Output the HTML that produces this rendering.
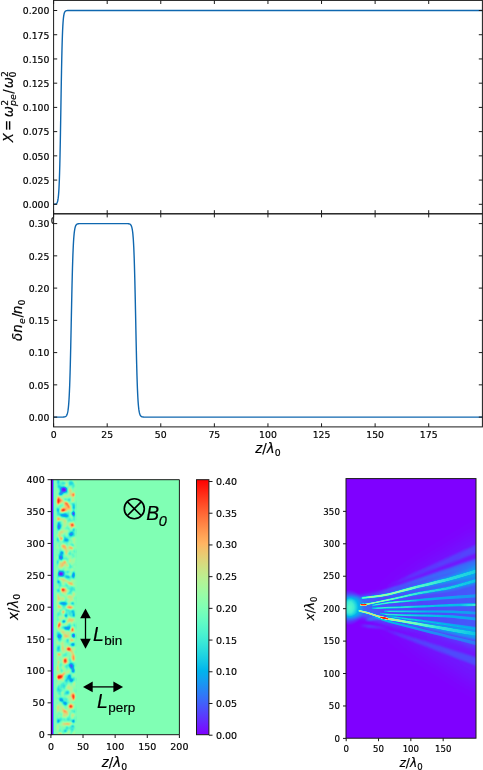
<!DOCTYPE html>
<html><head><meta charset="utf-8"><title>Figure</title><style>html,body{margin:0;padding:0;background:#fff}svg{display:block}</style></head><body>
<svg width="483" height="770" viewBox="0 0 483 770">
<rect width="483" height="770" fill="#fff"/>
<clipPath id="c0"><rect x="0" y="213.8" width="53.30" height="20"/></clipPath>
<text x="53.60" y="224.40" font-size="9.3" text-anchor="middle" font-family='"DejaVu Sans","Liberation Sans",sans-serif' stroke="#000" stroke-width="0.18" clip-path="url(#c0)">0</text>
<path d="M53.60,204.30 L54.67,204.24 L54.89,204.22 L55.10,204.19 L55.31,204.15 L55.53,204.09 L55.74,204.02 L55.96,203.93 L56.17,203.81 L56.39,203.65 L56.60,203.45 L56.82,203.18 L57.03,202.83 L57.24,202.38 L57.46,201.78 L57.67,201.01 L57.89,200.00 L58.10,198.71 L58.32,197.03 L58.53,194.88 L58.74,192.14 L58.96,188.67 L59.17,184.31 L59.39,178.92 L59.60,172.34 L59.82,164.46 L60.03,155.22 L60.24,144.67 L60.46,132.98 L60.67,120.42 L60.89,107.41 L61.10,94.39 L61.32,81.84 L61.53,70.14 L61.75,59.60 L61.96,50.36 L62.17,42.48 L62.39,35.90 L62.60,30.51 L62.82,26.15 L63.03,22.68 L63.25,19.94 L63.46,17.79 L63.67,16.11 L63.89,14.81 L64.10,13.81 L64.32,13.04 L64.53,12.44 L64.75,11.99 L64.96,11.64 L65.17,11.37 L65.39,11.16 L65.60,11.01 L65.82,10.89 L66.03,10.80 L66.25,10.73 L66.46,10.67 L66.68,10.63 L66.89,10.60 L67.53,10.54 L482.30,10.50" fill="none" stroke="#0f67af" stroke-width="1.4" stroke-linejoin="round"/>
<path d="M53.60,417.10 L63.25,417.04 L63.67,417.01 L63.89,416.99 L64.10,416.97 L64.32,416.93 L64.53,416.89 L64.75,416.84 L64.96,416.78 L65.17,416.71 L65.39,416.61 L65.60,416.49 L65.82,416.35 L66.03,416.16 L66.25,415.94 L66.46,415.66 L66.68,415.31 L66.89,414.88 L67.10,414.35 L67.32,413.69 L67.53,412.88 L67.75,411.89 L67.96,410.66 L68.18,409.17 L68.39,407.34 L68.60,405.11 L68.82,402.42 L69.03,399.19 L69.25,395.33 L69.46,390.76 L69.68,385.41 L69.89,379.22 L70.10,372.16 L70.32,364.23 L70.53,355.48 L70.75,346.01 L70.96,335.99 L71.18,325.60 L71.39,315.10 L71.61,304.71 L71.82,294.69 L72.03,285.22 L72.25,276.47 L72.46,268.54 L72.68,261.48 L72.89,255.29 L73.11,249.94 L73.32,245.37 L73.53,241.51 L73.75,238.28 L73.96,235.59 L74.18,233.36 L74.39,231.53 L74.61,230.04 L74.82,228.81 L75.03,227.82 L75.25,227.01 L75.46,226.35 L75.68,225.82 L75.89,225.39 L76.11,225.04 L76.32,224.76 L76.54,224.54 L76.75,224.35 L76.96,224.21 L77.18,224.09 L77.39,223.99 L77.61,223.92 L77.82,223.86 L78.04,223.81 L78.25,223.77 L78.46,223.73 L78.68,223.71 L79.32,223.66 L81.68,223.61 L127.77,223.66 L128.19,223.70 L128.41,223.72 L128.62,223.75 L128.84,223.78 L129.05,223.83 L129.27,223.88 L129.48,223.95 L129.69,224.04 L129.91,224.14 L130.12,224.28 L130.34,224.44 L130.55,224.64 L130.77,224.90 L130.98,225.21 L131.19,225.59 L131.41,226.07 L131.62,226.66 L131.84,227.39 L132.05,228.29 L132.27,229.39 L132.48,230.75 L132.70,232.40 L132.91,234.42 L133.12,236.87 L133.34,239.82 L133.55,243.36 L133.77,247.56 L133.98,252.51 L134.20,258.28 L134.41,264.90 L134.62,272.40 L134.84,280.75 L135.05,289.87 L135.27,299.64 L135.48,309.87 L135.70,320.35 L135.91,330.83 L136.12,341.06 L136.34,350.83 L136.55,359.95 L136.77,368.30 L136.98,375.80 L137.20,382.42 L137.41,388.19 L137.63,393.14 L137.84,397.34 L138.05,400.88 L138.27,403.83 L138.48,406.28 L138.70,408.30 L138.91,409.95 L139.13,411.31 L139.34,412.41 L139.55,413.31 L139.77,414.04 L139.98,414.63 L140.20,415.11 L140.41,415.49 L140.63,415.80 L140.84,416.06 L141.05,416.26 L141.27,416.42 L141.48,416.56 L141.70,416.66 L141.91,416.75 L142.13,416.82 L142.34,416.87 L142.56,416.92 L142.77,416.95 L142.98,416.98 L143.63,417.04 L145.34,417.09 L482.30,417.10" fill="none" stroke="#0f67af" stroke-width="1.4" stroke-linejoin="round"/>
<rect x="53.6" y="0.4" width="428.80" height="213.40" fill="none" stroke="#1a1a1a" stroke-width="1.0"/>
<rect x="53.6" y="213.8" width="428.80" height="213.10" fill="none" stroke="#1a1a1a" stroke-width="1.0"/>
<line x1="53.60" y1="213.80" x2="53.60" y2="210.20" stroke="#1a1a1a" stroke-width="1.0" />
<line x1="53.60" y1="0.40" x2="53.60" y2="4.00" stroke="#1a1a1a" stroke-width="1.0" />
<line x1="107.19" y1="213.80" x2="107.19" y2="210.20" stroke="#1a1a1a" stroke-width="1.0" />
<line x1="107.19" y1="0.40" x2="107.19" y2="4.00" stroke="#1a1a1a" stroke-width="1.0" />
<line x1="160.78" y1="213.80" x2="160.78" y2="210.20" stroke="#1a1a1a" stroke-width="1.0" />
<line x1="160.78" y1="0.40" x2="160.78" y2="4.00" stroke="#1a1a1a" stroke-width="1.0" />
<line x1="214.36" y1="213.80" x2="214.36" y2="210.20" stroke="#1a1a1a" stroke-width="1.0" />
<line x1="214.36" y1="0.40" x2="214.36" y2="4.00" stroke="#1a1a1a" stroke-width="1.0" />
<line x1="267.95" y1="213.80" x2="267.95" y2="210.20" stroke="#1a1a1a" stroke-width="1.0" />
<line x1="267.95" y1="0.40" x2="267.95" y2="4.00" stroke="#1a1a1a" stroke-width="1.0" />
<line x1="321.54" y1="213.80" x2="321.54" y2="210.20" stroke="#1a1a1a" stroke-width="1.0" />
<line x1="321.54" y1="0.40" x2="321.54" y2="4.00" stroke="#1a1a1a" stroke-width="1.0" />
<line x1="375.12" y1="213.80" x2="375.12" y2="210.20" stroke="#1a1a1a" stroke-width="1.0" />
<line x1="375.12" y1="0.40" x2="375.12" y2="4.00" stroke="#1a1a1a" stroke-width="1.0" />
<line x1="428.71" y1="213.80" x2="428.71" y2="210.20" stroke="#1a1a1a" stroke-width="1.0" />
<line x1="428.71" y1="0.40" x2="428.71" y2="4.00" stroke="#1a1a1a" stroke-width="1.0" />
<line x1="53.60" y1="426.90" x2="53.60" y2="423.30" stroke="#1a1a1a" stroke-width="1.0" />
<line x1="53.60" y1="213.80" x2="53.60" y2="217.40" stroke="#1a1a1a" stroke-width="1.0" />
<line x1="107.19" y1="426.90" x2="107.19" y2="423.30" stroke="#1a1a1a" stroke-width="1.0" />
<line x1="107.19" y1="213.80" x2="107.19" y2="217.40" stroke="#1a1a1a" stroke-width="1.0" />
<line x1="160.78" y1="426.90" x2="160.78" y2="423.30" stroke="#1a1a1a" stroke-width="1.0" />
<line x1="160.78" y1="213.80" x2="160.78" y2="217.40" stroke="#1a1a1a" stroke-width="1.0" />
<line x1="214.36" y1="426.90" x2="214.36" y2="423.30" stroke="#1a1a1a" stroke-width="1.0" />
<line x1="214.36" y1="213.80" x2="214.36" y2="217.40" stroke="#1a1a1a" stroke-width="1.0" />
<line x1="267.95" y1="426.90" x2="267.95" y2="423.30" stroke="#1a1a1a" stroke-width="1.0" />
<line x1="267.95" y1="213.80" x2="267.95" y2="217.40" stroke="#1a1a1a" stroke-width="1.0" />
<line x1="321.54" y1="426.90" x2="321.54" y2="423.30" stroke="#1a1a1a" stroke-width="1.0" />
<line x1="321.54" y1="213.80" x2="321.54" y2="217.40" stroke="#1a1a1a" stroke-width="1.0" />
<line x1="375.12" y1="426.90" x2="375.12" y2="423.30" stroke="#1a1a1a" stroke-width="1.0" />
<line x1="375.12" y1="213.80" x2="375.12" y2="217.40" stroke="#1a1a1a" stroke-width="1.0" />
<line x1="428.71" y1="426.90" x2="428.71" y2="423.30" stroke="#1a1a1a" stroke-width="1.0" />
<line x1="428.71" y1="213.80" x2="428.71" y2="217.40" stroke="#1a1a1a" stroke-width="1.0" />
<line x1="53.60" y1="204.30" x2="57.20" y2="204.30" stroke="#1a1a1a" stroke-width="1.0" />
<line x1="482.40" y1="204.30" x2="478.80" y2="204.30" stroke="#1a1a1a" stroke-width="1.0" />
<text x="49.40" y="208.15" font-size="9.3" text-anchor="end" font-family='"DejaVu Sans","Liberation Sans",sans-serif' stroke="#000" stroke-width="0.18" >0.000</text>
<line x1="53.60" y1="180.08" x2="57.20" y2="180.08" stroke="#1a1a1a" stroke-width="1.0" />
<line x1="482.40" y1="180.08" x2="478.80" y2="180.08" stroke="#1a1a1a" stroke-width="1.0" />
<text x="49.40" y="183.92" font-size="9.3" text-anchor="end" font-family='"DejaVu Sans","Liberation Sans",sans-serif' stroke="#000" stroke-width="0.18" >0.025</text>
<line x1="53.60" y1="155.85" x2="57.20" y2="155.85" stroke="#1a1a1a" stroke-width="1.0" />
<line x1="482.40" y1="155.85" x2="478.80" y2="155.85" stroke="#1a1a1a" stroke-width="1.0" />
<text x="49.40" y="159.70" font-size="9.3" text-anchor="end" font-family='"DejaVu Sans","Liberation Sans",sans-serif' stroke="#000" stroke-width="0.18" >0.050</text>
<line x1="53.60" y1="131.62" x2="57.20" y2="131.62" stroke="#1a1a1a" stroke-width="1.0" />
<line x1="482.40" y1="131.62" x2="478.80" y2="131.62" stroke="#1a1a1a" stroke-width="1.0" />
<text x="49.40" y="135.47" font-size="9.3" text-anchor="end" font-family='"DejaVu Sans","Liberation Sans",sans-serif' stroke="#000" stroke-width="0.18" >0.075</text>
<line x1="53.60" y1="107.40" x2="57.20" y2="107.40" stroke="#1a1a1a" stroke-width="1.0" />
<line x1="482.40" y1="107.40" x2="478.80" y2="107.40" stroke="#1a1a1a" stroke-width="1.0" />
<text x="49.40" y="111.25" font-size="9.3" text-anchor="end" font-family='"DejaVu Sans","Liberation Sans",sans-serif' stroke="#000" stroke-width="0.18" >0.100</text>
<line x1="53.60" y1="83.18" x2="57.20" y2="83.18" stroke="#1a1a1a" stroke-width="1.0" />
<line x1="482.40" y1="83.18" x2="478.80" y2="83.18" stroke="#1a1a1a" stroke-width="1.0" />
<text x="49.40" y="87.02" font-size="9.3" text-anchor="end" font-family='"DejaVu Sans","Liberation Sans",sans-serif' stroke="#000" stroke-width="0.18" >0.125</text>
<line x1="53.60" y1="58.95" x2="57.20" y2="58.95" stroke="#1a1a1a" stroke-width="1.0" />
<line x1="482.40" y1="58.95" x2="478.80" y2="58.95" stroke="#1a1a1a" stroke-width="1.0" />
<text x="49.40" y="62.80" font-size="9.3" text-anchor="end" font-family='"DejaVu Sans","Liberation Sans",sans-serif' stroke="#000" stroke-width="0.18" >0.150</text>
<line x1="53.60" y1="34.72" x2="57.20" y2="34.72" stroke="#1a1a1a" stroke-width="1.0" />
<line x1="482.40" y1="34.72" x2="478.80" y2="34.72" stroke="#1a1a1a" stroke-width="1.0" />
<text x="49.40" y="38.57" font-size="9.3" text-anchor="end" font-family='"DejaVu Sans","Liberation Sans",sans-serif' stroke="#000" stroke-width="0.18" >0.175</text>
<line x1="53.60" y1="10.50" x2="57.20" y2="10.50" stroke="#1a1a1a" stroke-width="1.0" />
<line x1="482.40" y1="10.50" x2="478.80" y2="10.50" stroke="#1a1a1a" stroke-width="1.0" />
<text x="49.40" y="14.35" font-size="9.3" text-anchor="end" font-family='"DejaVu Sans","Liberation Sans",sans-serif' stroke="#000" stroke-width="0.18" >0.200</text>
<line x1="53.60" y1="417.10" x2="57.20" y2="417.10" stroke="#1a1a1a" stroke-width="1.0" />
<line x1="482.40" y1="417.10" x2="478.80" y2="417.10" stroke="#1a1a1a" stroke-width="1.0" />
<text x="49.40" y="420.95" font-size="9.3" text-anchor="end" font-family='"DejaVu Sans","Liberation Sans",sans-serif' stroke="#000" stroke-width="0.18" >0.00</text>
<line x1="53.60" y1="384.85" x2="57.20" y2="384.85" stroke="#1a1a1a" stroke-width="1.0" />
<line x1="482.40" y1="384.85" x2="478.80" y2="384.85" stroke="#1a1a1a" stroke-width="1.0" />
<text x="49.40" y="388.70" font-size="9.3" text-anchor="end" font-family='"DejaVu Sans","Liberation Sans",sans-serif' stroke="#000" stroke-width="0.18" >0.05</text>
<line x1="53.60" y1="352.60" x2="57.20" y2="352.60" stroke="#1a1a1a" stroke-width="1.0" />
<line x1="482.40" y1="352.60" x2="478.80" y2="352.60" stroke="#1a1a1a" stroke-width="1.0" />
<text x="49.40" y="356.45" font-size="9.3" text-anchor="end" font-family='"DejaVu Sans","Liberation Sans",sans-serif' stroke="#000" stroke-width="0.18" >0.10</text>
<line x1="53.60" y1="320.35" x2="57.20" y2="320.35" stroke="#1a1a1a" stroke-width="1.0" />
<line x1="482.40" y1="320.35" x2="478.80" y2="320.35" stroke="#1a1a1a" stroke-width="1.0" />
<text x="49.40" y="324.20" font-size="9.3" text-anchor="end" font-family='"DejaVu Sans","Liberation Sans",sans-serif' stroke="#000" stroke-width="0.18" >0.15</text>
<line x1="53.60" y1="288.10" x2="57.20" y2="288.10" stroke="#1a1a1a" stroke-width="1.0" />
<line x1="482.40" y1="288.10" x2="478.80" y2="288.10" stroke="#1a1a1a" stroke-width="1.0" />
<text x="49.40" y="291.95" font-size="9.3" text-anchor="end" font-family='"DejaVu Sans","Liberation Sans",sans-serif' stroke="#000" stroke-width="0.18" >0.20</text>
<line x1="53.60" y1="255.85" x2="57.20" y2="255.85" stroke="#1a1a1a" stroke-width="1.0" />
<line x1="482.40" y1="255.85" x2="478.80" y2="255.85" stroke="#1a1a1a" stroke-width="1.0" />
<text x="49.40" y="259.70" font-size="9.3" text-anchor="end" font-family='"DejaVu Sans","Liberation Sans",sans-serif' stroke="#000" stroke-width="0.18" >0.25</text>
<line x1="53.60" y1="223.60" x2="57.20" y2="223.60" stroke="#1a1a1a" stroke-width="1.0" />
<line x1="482.40" y1="223.60" x2="478.80" y2="223.60" stroke="#1a1a1a" stroke-width="1.0" />
<text x="49.40" y="227.45" font-size="9.3" text-anchor="end" font-family='"DejaVu Sans","Liberation Sans",sans-serif' stroke="#000" stroke-width="0.18" >0.30</text>
<text x="53.60" y="438.10" font-size="9.3" text-anchor="middle" font-family='"DejaVu Sans","Liberation Sans",sans-serif' stroke="#000" stroke-width="0.18" >0</text>
<text x="107.19" y="438.10" font-size="9.3" text-anchor="middle" font-family='"DejaVu Sans","Liberation Sans",sans-serif' stroke="#000" stroke-width="0.18" >25</text>
<text x="160.78" y="438.10" font-size="9.3" text-anchor="middle" font-family='"DejaVu Sans","Liberation Sans",sans-serif' stroke="#000" stroke-width="0.18" >50</text>
<text x="214.36" y="438.10" font-size="9.3" text-anchor="middle" font-family='"DejaVu Sans","Liberation Sans",sans-serif' stroke="#000" stroke-width="0.18" >75</text>
<text x="267.95" y="438.10" font-size="9.3" text-anchor="middle" font-family='"DejaVu Sans","Liberation Sans",sans-serif' stroke="#000" stroke-width="0.18" >100</text>
<text x="321.54" y="438.10" font-size="9.3" text-anchor="middle" font-family='"DejaVu Sans","Liberation Sans",sans-serif' stroke="#000" stroke-width="0.18" >125</text>
<text x="375.12" y="438.10" font-size="9.3" text-anchor="middle" font-family='"DejaVu Sans","Liberation Sans",sans-serif' stroke="#000" stroke-width="0.18" >150</text>
<text x="428.71" y="438.10" font-size="9.3" text-anchor="middle" font-family='"DejaVu Sans","Liberation Sans",sans-serif' stroke="#000" stroke-width="0.18" >175</text>
<text x="268.00" y="453.40" font-size="13.3" text-anchor="middle" font-family='"DejaVu Sans","Liberation Sans",sans-serif' stroke="#000" stroke-width="0.18" ><tspan font-style="italic">z</tspan>/<tspan font-style="italic">λ</tspan><tspan font-size="9.31" dy="2.93">0</tspan></text>
<text font-family='"DejaVu Sans","Liberation Sans",sans-serif' font-size="13.3" transform="translate(12.7,142.3) rotate(-90)" stroke="#000" stroke-width="0.18"><tspan x="0.00" y="0.00" font-size="13.3" font-style="italic">X</tspan><tspan x="11.30" y="0.00" font-size="13.3">=</tspan><tspan x="25.00" y="0.00" font-size="13.3" font-style="italic">ω</tspan><tspan x="36.60" y="-5.10" font-size="9.4">2</tspan><tspan x="36.40" y="3.70" font-size="9.4" font-style="italic">pe</tspan><tspan x="48.50" y="0.00" font-size="13.3">/</tspan><tspan x="54.00" y="0.00" font-size="13.3" font-style="italic">ω</tspan><tspan x="65.20" y="-5.10" font-size="9.4">2</tspan><tspan x="64.80" y="3.70" font-size="9.4">0</tspan></text>
<text font-family='"DejaVu Sans","Liberation Sans",sans-serif' font-size="13.3" transform="translate(22.4,341.0) rotate(-90)" stroke="#000" stroke-width="0.18"><tspan x="0.00" y="0.00" font-size="13.3" font-style="italic">δ</tspan><tspan x="8.30" y="0.00" font-size="13.3" font-style="italic">n</tspan><tspan x="17.00" y="2.30" font-size="9.4" font-style="italic">e</tspan><tspan x="23.50" y="0.00" font-size="13.3">/</tspan><tspan x="27.00" y="0.00" font-size="13.3" font-style="italic">n</tspan><tspan x="35.60" y="2.30" font-size="9.4">0</tspan></text>
<defs>
<filter id="cm" x="0" y="0" width="100%" height="100%" color-interpolation-filters="sRGB" filterUnits="objectBoundingBox"><feComponentTransfer><feFuncR type="table" tableValues="0.500 0.438 0.375 0.312 0.250 0.188 0.125 0.062 0.000 0.062 0.125 0.188 0.250 0.312 0.375 0.438 0.500 0.562 0.625 0.688 0.750 0.812 0.875 0.938 1.000 1.000 1.000 1.000 1.000 1.000 1.000 1.000 1.000"/><feFuncG type="table" tableValues="0.000 0.098 0.195 0.290 0.383 0.471 0.556 0.634 0.707 0.773 0.831 0.882 0.924 0.957 0.981 0.995 1.000 0.995 0.981 0.957 0.924 0.882 0.831 0.773 0.707 0.634 0.556 0.471 0.383 0.290 0.195 0.098 0.000"/><feFuncB type="table" tableValues="1.000 0.999 0.995 0.989 0.981 0.970 0.957 0.942 0.924 0.904 0.882 0.858 0.831 0.803 0.773 0.741 0.707 0.672 0.634 0.596 0.556 0.514 0.471 0.428 0.383 0.337 0.290 0.243 0.195 0.147 0.098 0.049 0.000"/></feComponentTransfer></filter>
</defs>
<rect x="50.9" y="479.7" width="128.50" height="255.00" fill="#80ffb4"/>
<rect x="50.9" y="479.7" width="2.3" height="255.00" fill="#8000ff"/>
<filter id="tb" x="55.6" y="479.7" width="20.60" height="255.00" filterUnits="userSpaceOnUse" color-interpolation-filters="sRGB"><feTurbulence type="fractalNoise" baseFrequency="0.16 0.13" numOctaves="2" seed="7" result="n"/><feColorMatrix in="n" type="matrix" values="0.9 0 0 0 0.05  0.9 0 0 0 0.05  0.9 0 0 0 0.05  0 0 0 0 1"/></filter>
<filter id="bl" x="52.6" y="476.7" width="26.60" height="261.00" filterUnits="userSpaceOnUse" color-interpolation-filters="sRGB"><feGaussianBlur stdDeviation="1.0"/></filter>
<filter id="cms" x="55.6" y="479.7" width="20.60" height="255.00" filterUnits="userSpaceOnUse" color-interpolation-filters="sRGB"><feComponentTransfer><feFuncR type="table" tableValues="0.500 0.438 0.375 0.312 0.250 0.188 0.125 0.062 0.000 0.062 0.125 0.188 0.250 0.312 0.375 0.438 0.500 0.562 0.625 0.688 0.750 0.812 0.875 0.938 1.000 1.000 1.000 1.000 1.000 1.000 1.000 1.000 1.000"/><feFuncG type="table" tableValues="0.000 0.098 0.195 0.290 0.383 0.471 0.556 0.634 0.707 0.773 0.831 0.882 0.924 0.957 0.981 0.995 1.000 0.995 0.981 0.957 0.924 0.882 0.831 0.773 0.707 0.634 0.556 0.471 0.383 0.290 0.195 0.098 0.000"/><feFuncB type="table" tableValues="1.000 0.999 0.995 0.989 0.981 0.970 0.957 0.942 0.924 0.904 0.882 0.858 0.831 0.803 0.773 0.741 0.707 0.672 0.634 0.596 0.556 0.514 0.471 0.428 0.383 0.337 0.290 0.243 0.195 0.147 0.098 0.049 0.000"/></feComponentTransfer></filter>
<clipPath id="cs"><rect x="55.6" y="479.7" width="20.60" height="255.00"/></clipPath>
<g filter="url(#cms)"><g clip-path="url(#cs)">
<rect x="55.6" y="479.7" width="20.60" height="255.00" fill="#808080"/>
<rect x="55.6" y="479.7" width="20.60" height="255.00" filter="url(#tb)" opacity="0.65"/>
<g filter="url(#bl)">
<ellipse cx="63.85" cy="489.57" rx="3.19" ry="2.92" fill="rgb(0,0,0)"/>
<ellipse cx="60.85" cy="493.42" rx="2.92" ry="2.13" fill="rgb(38,38,38)" transform="rotate(-35 60.85 493.42)"/>
<ellipse cx="59.14" cy="486.57" rx="2.39" ry="1.86" fill="rgb(73,73,73)"/>
<ellipse cx="71.99" cy="483.14" rx="2.13" ry="1.59" fill="rgb(73,73,73)"/>
<ellipse cx="69.42" cy="499.85" rx="2.39" ry="1.33" fill="rgb(70,70,70)" transform="rotate(20 69.42 499.85)"/>
<ellipse cx="57.00" cy="509.71" rx="1.46" ry="1.99" fill="rgb(32,32,32)"/>
<ellipse cx="73.71" cy="513.56" rx="2.13" ry="2.66" fill="rgb(0,0,0)"/>
<ellipse cx="74.14" cy="507.56" rx="1.59" ry="2.92" fill="rgb(48,48,48)"/>
<ellipse cx="64.28" cy="515.53" rx="5.31" ry="1.73" fill="rgb(38,38,38)" transform="rotate(10 64.28 515.53)"/>
<ellipse cx="58.71" cy="526.84" rx="2.13" ry="3.19" fill="rgb(32,32,32)"/>
<ellipse cx="58.71" cy="522.99" rx="1.86" ry="1.86" fill="rgb(57,57,57)"/>
<ellipse cx="71.14" cy="534.13" rx="2.66" ry="2.26" fill="rgb(32,32,32)" transform="rotate(-30 71.14 534.13)"/>
<ellipse cx="73.71" cy="529.84" rx="1.59" ry="2.13" fill="rgb(57,57,57)"/>
<ellipse cx="66.42" cy="539.87" rx="2.92" ry="1.59" fill="rgb(38,38,38)"/>
<ellipse cx="57.00" cy="539.27" rx="1.33" ry="1.59" fill="rgb(48,48,48)"/>
<ellipse cx="63.42" cy="483.14" rx="2.92" ry="1.86" fill="rgb(89,89,89)"/>
<ellipse cx="73.71" cy="494.71" rx="1.86" ry="2.13" fill="rgb(229,229,229)"/>
<ellipse cx="57.85" cy="500.71" rx="2.26" ry="3.19" fill="rgb(255,255,255)"/>
<ellipse cx="60.85" cy="500.45" rx="2.66" ry="1.33" fill="rgb(217,217,217)"/>
<ellipse cx="66.42" cy="503.71" rx="3.19" ry="1.86" fill="rgb(229,229,229)" transform="rotate(30 66.42 503.71)"/>
<ellipse cx="68.57" cy="506.71" rx="1.86" ry="2.92" fill="rgb(223,223,223)" transform="rotate(-20 68.57 506.71)"/>
<ellipse cx="63.25" cy="510.13" rx="2.92" ry="1.99" fill="rgb(255,255,255)" transform="rotate(-20 63.25 510.13)"/>
<ellipse cx="58.28" cy="518.96" rx="1.86" ry="1.59" fill="rgb(223,223,223)"/>
<ellipse cx="72.16" cy="524.96" rx="1.86" ry="1.99" fill="rgb(255,255,255)"/>
<ellipse cx="61.71" cy="531.98" rx="2.39" ry="1.59" fill="rgb(185,185,185)" transform="rotate(-30 61.71 531.98)"/>
<ellipse cx="59.14" cy="535.24" rx="1.86" ry="1.59" fill="rgb(191,191,191)"/>
<ellipse cx="61.28" cy="538.67" rx="1.73" ry="1.59" fill="rgb(229,229,229)"/>
<ellipse cx="74.56" cy="538.84" rx="1.06" ry="1.86" fill="rgb(191,191,191)"/>
<ellipse cx="65.99" cy="496.42" rx="2.92" ry="1.33" fill="rgb(179,179,179)" transform="rotate(-10 65.99 496.42)"/>
<ellipse cx="72.85" cy="500.28" rx="1.33" ry="1.86" fill="rgb(185,185,185)"/>
<ellipse cx="65.14" cy="521.27" rx="1.59" ry="2.39" fill="rgb(166,166,166)"/>
<ellipse cx="61.71" cy="553.14" rx="1.86" ry="2.66" fill="rgb(38,38,38)" transform="rotate(15 61.71 553.14)"/>
<ellipse cx="60.85" cy="557.85" rx="2.13" ry="1.86" fill="rgb(16,16,16)"/>
<ellipse cx="57.43" cy="562.14" rx="1.33" ry="2.39" fill="rgb(48,48,48)"/>
<ellipse cx="60.85" cy="573.88" rx="2.92" ry="2.66" fill="rgb(0,0,0)"/>
<ellipse cx="67.71" cy="571.99" rx="1.86" ry="1.59" fill="rgb(64,64,64)"/>
<ellipse cx="68.57" cy="577.13" rx="2.39" ry="1.59" fill="rgb(48,48,48)"/>
<ellipse cx="73.71" cy="574.99" rx="1.59" ry="3.72" fill="rgb(32,32,32)"/>
<ellipse cx="58.28" cy="581.85" rx="2.13" ry="1.86" fill="rgb(38,38,38)"/>
<ellipse cx="63.00" cy="603.27" rx="4.52" ry="1.59" fill="rgb(32,32,32)"/>
<ellipse cx="72.42" cy="603.27" rx="1.73" ry="1.86" fill="rgb(48,48,48)"/>
<ellipse cx="70.28" cy="588.70" rx="3.19" ry="1.33" fill="rgb(83,83,83)" transform="rotate(20 70.28 588.70)"/>
<ellipse cx="72.85" cy="554.85" rx="1.33" ry="2.13" fill="rgb(89,89,89)"/>
<ellipse cx="63.42" cy="546.28" rx="3.19" ry="1.33" fill="rgb(207,207,207)" transform="rotate(10 63.42 546.28)"/>
<ellipse cx="71.14" cy="548.00" rx="2.92" ry="1.33" fill="rgb(223,223,223)" transform="rotate(15 71.14 548.00)"/>
<ellipse cx="74.56" cy="559.57" rx="1.06" ry="1.59" fill="rgb(191,191,191)"/>
<ellipse cx="64.71" cy="562.14" rx="1.73" ry="2.13" fill="rgb(217,217,217)"/>
<ellipse cx="62.14" cy="565.99" rx="2.39" ry="1.20" fill="rgb(207,207,207)" transform="rotate(-45 62.14 565.99)"/>
<ellipse cx="67.54" cy="565.56" rx="2.13" ry="1.20" fill="rgb(207,207,207)" transform="rotate(45 67.54 565.56)"/>
<ellipse cx="65.14" cy="580.73" rx="2.92" ry="1.20" fill="rgb(198,198,198)" transform="rotate(25 65.14 580.73)"/>
<ellipse cx="70.71" cy="583.56" rx="3.45" ry="1.20" fill="rgb(217,217,217)" transform="rotate(25 70.71 583.56)"/>
<ellipse cx="63.00" cy="589.81" rx="2.26" ry="2.26" fill="rgb(255,255,255)"/>
<ellipse cx="57.85" cy="595.56" rx="1.20" ry="2.92" fill="rgb(207,207,207)"/>
<ellipse cx="58.71" cy="598.98" rx="1.86" ry="1.59" fill="rgb(198,198,198)"/>
<ellipse cx="61.71" cy="598.56" rx="2.39" ry="1.06" fill="rgb(191,191,191)"/>
<ellipse cx="68.99" cy="596.84" rx="1.86" ry="1.86" fill="rgb(185,185,185)"/>
<ellipse cx="70.28" cy="607.30" rx="2.66" ry="1.33" fill="rgb(223,223,223)"/>
<ellipse cx="57.43" cy="587.42" rx="2.13" ry="1.06" fill="rgb(179,179,179)"/>
<ellipse cx="74.14" cy="615.00" rx="1.33" ry="2.39" fill="rgb(32,32,32)"/>
<ellipse cx="65.99" cy="615.85" rx="1.86" ry="2.39" fill="rgb(38,38,38)"/>
<ellipse cx="63.85" cy="621.42" rx="1.86" ry="1.86" fill="rgb(32,32,32)"/>
<ellipse cx="67.28" cy="628.28" rx="3.72" ry="1.73" fill="rgb(38,38,38)"/>
<ellipse cx="59.14" cy="635.99" rx="2.92" ry="1.86" fill="rgb(32,32,32)"/>
<ellipse cx="73.54" cy="635.56" rx="1.99" ry="2.26" fill="rgb(6,6,6)"/>
<ellipse cx="72.85" cy="644.56" rx="2.26" ry="1.73" fill="rgb(25,25,25)"/>
<ellipse cx="58.28" cy="649.70" rx="1.86" ry="1.33" fill="rgb(83,83,83)"/>
<ellipse cx="65.14" cy="655.27" rx="2.13" ry="1.33" fill="rgb(77,77,77)"/>
<ellipse cx="71.14" cy="665.98" rx="1.86" ry="2.92" fill="rgb(16,16,16)" transform="rotate(-25 71.14 665.98)"/>
<ellipse cx="73.71" cy="670.70" rx="1.59" ry="2.39" fill="rgb(16,16,16)" transform="rotate(-25 73.71 670.70)"/>
<ellipse cx="58.28" cy="614.14" rx="1.33" ry="2.66" fill="rgb(89,89,89)"/>
<ellipse cx="69.42" cy="607.29" rx="3.72" ry="1.33" fill="rgb(223,223,223)"/>
<ellipse cx="59.14" cy="606.86" rx="1.86" ry="1.06" fill="rgb(191,191,191)"/>
<ellipse cx="63.42" cy="612.00" rx="1.59" ry="1.59" fill="rgb(223,223,223)" transform="rotate(-30 63.42 612.00)"/>
<ellipse cx="59.14" cy="625.28" rx="1.59" ry="3.45" fill="rgb(255,255,255)" transform="rotate(10 59.14 625.28)"/>
<ellipse cx="68.99" cy="621.00" rx="3.45" ry="1.06" fill="rgb(191,191,191)" transform="rotate(-35 68.99 621.00)"/>
<ellipse cx="64.28" cy="624.42" rx="3.45" ry="0.93" fill="rgb(185,185,185)" transform="rotate(-10 64.28 624.42)"/>
<ellipse cx="72.42" cy="629.56" rx="1.59" ry="2.66" fill="rgb(255,255,255)"/>
<ellipse cx="66.42" cy="636.42" rx="2.39" ry="1.33" fill="rgb(207,207,207)"/>
<ellipse cx="71.56" cy="640.28" rx="1.86" ry="1.33" fill="rgb(223,223,223)" transform="rotate(20 71.56 640.28)"/>
<ellipse cx="68.57" cy="649.10" rx="2.52" ry="2.13" fill="rgb(255,255,255)"/>
<ellipse cx="63.00" cy="647.99" rx="1.33" ry="3.72" fill="rgb(198,198,198)"/>
<ellipse cx="59.14" cy="654.41" rx="2.92" ry="1.33" fill="rgb(223,223,223)" transform="rotate(15 59.14 654.41)"/>
<ellipse cx="73.71" cy="657.41" rx="1.59" ry="3.98" fill="rgb(217,217,217)"/>
<ellipse cx="65.14" cy="660.67" rx="1.86" ry="2.92" fill="rgb(255,255,255)"/>
<ellipse cx="58.11" cy="662.56" rx="1.06" ry="2.66" fill="rgb(207,207,207)"/>
<ellipse cx="57.00" cy="668.13" rx="1.20" ry="3.45" fill="rgb(229,229,229)"/>
<ellipse cx="60.85" cy="630.42" rx="2.92" ry="1.06" fill="rgb(185,185,185)" transform="rotate(10 60.85 630.42)"/>
<ellipse cx="72.85" cy="671.29" rx="1.86" ry="2.13" fill="rgb(38,38,38)"/>
<ellipse cx="69.42" cy="676.43" rx="1.86" ry="2.39" fill="rgb(32,32,32)"/>
<ellipse cx="71.56" cy="680.28" rx="1.59" ry="2.13" fill="rgb(32,32,32)"/>
<ellipse cx="58.28" cy="689.71" rx="2.39" ry="1.86" fill="rgb(77,77,77)" transform="rotate(30 58.28 689.71)"/>
<ellipse cx="67.71" cy="692.71" rx="2.13" ry="1.59" fill="rgb(57,57,57)"/>
<ellipse cx="61.28" cy="699.99" rx="2.39" ry="1.73" fill="rgb(25,25,25)" transform="rotate(35 61.28 699.99)"/>
<ellipse cx="65.14" cy="703.25" rx="2.39" ry="1.59" fill="rgb(32,32,32)" transform="rotate(40 65.14 703.25)"/>
<ellipse cx="57.85" cy="721.41" rx="1.73" ry="1.86" fill="rgb(32,32,32)"/>
<ellipse cx="73.28" cy="720.99" rx="1.86" ry="1.86" fill="rgb(25,25,25)"/>
<ellipse cx="68.57" cy="719.70" rx="1.86" ry="1.33" fill="rgb(70,70,70)"/>
<ellipse cx="72.85" cy="726.13" rx="1.59" ry="1.73" fill="rgb(38,38,38)"/>
<ellipse cx="65.14" cy="731.01" rx="1.73" ry="1.86" fill="rgb(32,32,32)"/>
<ellipse cx="61.71" cy="685.00" rx="1.59" ry="2.13" fill="rgb(83,83,83)"/>
<ellipse cx="59.57" cy="676.86" rx="3.72" ry="2.26" fill="rgb(255,255,255)" transform="rotate(-10 59.57 676.86)"/>
<ellipse cx="63.85" cy="673.86" rx="1.33" ry="2.13" fill="rgb(223,223,223)" transform="rotate(30 63.85 673.86)"/>
<ellipse cx="74.56" cy="683.71" rx="0.93" ry="3.19" fill="rgb(191,191,191)"/>
<ellipse cx="73.71" cy="696.99" rx="1.46" ry="3.45" fill="rgb(255,255,255)"/>
<ellipse cx="70.71" cy="706.42" rx="2.26" ry="2.13" fill="rgb(255,255,255)"/>
<ellipse cx="57.43" cy="707.70" rx="1.33" ry="2.13" fill="rgb(191,191,191)"/>
<ellipse cx="65.14" cy="711.13" rx="3.19" ry="1.33" fill="rgb(217,217,217)" transform="rotate(20 65.14 711.13)"/>
<ellipse cx="61.28" cy="707.70" rx="2.39" ry="1.06" fill="rgb(191,191,191)" transform="rotate(30 61.28 707.70)"/>
<ellipse cx="72.85" cy="714.99" rx="1.86" ry="1.20" fill="rgb(185,185,185)"/>
<ellipse cx="66.42" cy="723.98" rx="4.25" ry="1.20" fill="rgb(217,217,217)" transform="rotate(5 66.42 723.98)"/>
<ellipse cx="57.43" cy="729.98" rx="1.06" ry="2.13" fill="rgb(191,191,191)"/>
<ellipse cx="60.00" cy="733.84" rx="1.86" ry="1.06" fill="rgb(223,223,223)"/>
<ellipse cx="68.57" cy="687.14" rx="1.33" ry="1.33" fill="rgb(185,185,185)"/>
<ellipse cx="67.28" cy="714.56" rx="1.33" ry="2.13" fill="rgb(179,179,179)"/>
<ellipse cx="56.57" cy="683.71" rx="1.06" ry="1.59" fill="rgb(185,185,185)"/>
</g>
<linearGradient id="ef" x1="55.6" x2="76.2" y1="0" y2="0" gradientUnits="userSpaceOnUse"><stop offset="0" stop-color="#808080"/><stop offset="0.12" stop-color="#808080" stop-opacity="0"/><stop offset="0.9" stop-color="#808080" stop-opacity="0"/><stop offset="1" stop-color="#808080"/></linearGradient>
<rect x="55.6" y="479.7" width="20.60" height="255.00" fill="url(#ef)"/>
</g></g>
<linearGradient id="pg" x1="50.9" x2="55.9" y1="0" y2="0" gradientUnits="userSpaceOnUse"><stop offset="0" stop-color="#8000ff"/><stop offset="0.42" stop-color="#8000ff"/><stop offset="0.49" stop-color="#1996f3"/><stop offset="0.56" stop-color="#42edd3"/><stop offset="0.72" stop-color="#80ffb4"/><stop offset="1" stop-color="#80ffb4"/></linearGradient>
<rect x="50.9" y="479.7" width="5" height="255.00" fill="url(#pg)"/>
<path d="M50.9,479.7 L179.4,479.7 L179.4,734.7 L50.9,734.7" fill="none" stroke="#1a1a1a" stroke-width="1.0"/>
<line x1="51.449999999999996" y1="479.2" x2="51.449999999999996" y2="735.2" stroke="#12003a" stroke-width="1.1" stroke-opacity="0.85"/>
<line x1="50.90" y1="734.70" x2="47.60" y2="734.70" stroke="#1a1a1a" stroke-width="1.0" />
<text x="44.70" y="738.22" font-size="9.5" text-anchor="end" font-family='"DejaVu Sans","Liberation Sans",sans-serif' stroke="#000" stroke-width="0.18" >0</text>
<line x1="50.90" y1="702.83" x2="47.60" y2="702.83" stroke="#1a1a1a" stroke-width="1.0" />
<text x="44.70" y="706.34" font-size="9.5" text-anchor="end" font-family='"DejaVu Sans","Liberation Sans",sans-serif' stroke="#000" stroke-width="0.18" >50</text>
<line x1="50.90" y1="670.95" x2="47.60" y2="670.95" stroke="#1a1a1a" stroke-width="1.0" />
<text x="44.70" y="674.47" font-size="9.5" text-anchor="end" font-family='"DejaVu Sans","Liberation Sans",sans-serif' stroke="#000" stroke-width="0.18" >100</text>
<line x1="50.90" y1="639.08" x2="47.60" y2="639.08" stroke="#1a1a1a" stroke-width="1.0" />
<text x="44.70" y="642.59" font-size="9.5" text-anchor="end" font-family='"DejaVu Sans","Liberation Sans",sans-serif' stroke="#000" stroke-width="0.18" >150</text>
<line x1="50.90" y1="607.20" x2="47.60" y2="607.20" stroke="#1a1a1a" stroke-width="1.0" />
<text x="44.70" y="610.72" font-size="9.5" text-anchor="end" font-family='"DejaVu Sans","Liberation Sans",sans-serif' stroke="#000" stroke-width="0.18" >200</text>
<line x1="50.90" y1="575.33" x2="47.60" y2="575.33" stroke="#1a1a1a" stroke-width="1.0" />
<text x="44.70" y="578.84" font-size="9.5" text-anchor="end" font-family='"DejaVu Sans","Liberation Sans",sans-serif' stroke="#000" stroke-width="0.18" >250</text>
<line x1="50.90" y1="543.45" x2="47.60" y2="543.45" stroke="#1a1a1a" stroke-width="1.0" />
<text x="44.70" y="546.97" font-size="9.5" text-anchor="end" font-family='"DejaVu Sans","Liberation Sans",sans-serif' stroke="#000" stroke-width="0.18" >300</text>
<line x1="50.90" y1="511.58" x2="47.60" y2="511.58" stroke="#1a1a1a" stroke-width="1.0" />
<text x="44.70" y="515.09" font-size="9.5" text-anchor="end" font-family='"DejaVu Sans","Liberation Sans",sans-serif' stroke="#000" stroke-width="0.18" >350</text>
<line x1="50.90" y1="479.70" x2="47.60" y2="479.70" stroke="#1a1a1a" stroke-width="1.0" />
<text x="44.70" y="483.21" font-size="9.5" text-anchor="end" font-family='"DejaVu Sans","Liberation Sans",sans-serif' stroke="#000" stroke-width="0.18" >400</text>
<line x1="50.90" y1="734.70" x2="50.90" y2="738.00" stroke="#1a1a1a" stroke-width="1.0" />
<text x="50.90" y="749.60" font-size="9.5" text-anchor="middle" font-family='"DejaVu Sans","Liberation Sans",sans-serif' stroke="#000" stroke-width="0.18" >0</text>
<line x1="83.03" y1="734.70" x2="83.03" y2="738.00" stroke="#1a1a1a" stroke-width="1.0" />
<text x="83.03" y="749.60" font-size="9.5" text-anchor="middle" font-family='"DejaVu Sans","Liberation Sans",sans-serif' stroke="#000" stroke-width="0.18" >50</text>
<line x1="115.15" y1="734.70" x2="115.15" y2="738.00" stroke="#1a1a1a" stroke-width="1.0" />
<text x="115.15" y="749.60" font-size="9.5" text-anchor="middle" font-family='"DejaVu Sans","Liberation Sans",sans-serif' stroke="#000" stroke-width="0.18" >100</text>
<line x1="147.28" y1="734.70" x2="147.28" y2="738.00" stroke="#1a1a1a" stroke-width="1.0" />
<text x="147.28" y="749.60" font-size="9.5" text-anchor="middle" font-family='"DejaVu Sans","Liberation Sans",sans-serif' stroke="#000" stroke-width="0.18" >150</text>
<line x1="179.40" y1="734.70" x2="179.40" y2="738.00" stroke="#1a1a1a" stroke-width="1.0" />
<text x="179.40" y="749.60" font-size="9.5" text-anchor="middle" font-family='"DejaVu Sans","Liberation Sans",sans-serif' stroke="#000" stroke-width="0.18" >200</text>
<text x="114.50" y="766.60" font-size="13.3" text-anchor="middle" font-family='"DejaVu Sans","Liberation Sans",sans-serif' stroke="#000" stroke-width="0.18" ><tspan font-style="italic">z</tspan>/<tspan font-style="italic">λ</tspan><tspan font-size="9.31" dy="2.93">0</tspan></text>
<text x="0.00" y="0.00" font-size="13.3" text-anchor="middle" font-family='"DejaVu Sans","Liberation Sans",sans-serif' stroke="#000" stroke-width="0.18" transform="translate(17.5,607) rotate(-90)"><tspan font-style="italic">x</tspan>/<tspan font-style="italic">λ</tspan><tspan font-size="9.31" dy="2.93">0</tspan></text>
<linearGradient id="cb" x1="0" y1="1" x2="0" y2="0"><stop offset="0.0000" stop-color="#8000ff"/><stop offset="0.0250" stop-color="#7314ff"/><stop offset="0.0500" stop-color="#6628fe"/><stop offset="0.0750" stop-color="#593cfd"/><stop offset="0.1000" stop-color="#4c4ffc"/><stop offset="0.1250" stop-color="#4062fa"/><stop offset="0.1500" stop-color="#3374f8"/><stop offset="0.1750" stop-color="#2685f5"/><stop offset="0.2000" stop-color="#1996f3"/><stop offset="0.2250" stop-color="#0da6ef"/><stop offset="0.2500" stop-color="#00b4ec"/><stop offset="0.2750" stop-color="#0dc2e8"/><stop offset="0.3000" stop-color="#1acee3"/><stop offset="0.3250" stop-color="#26d9de"/><stop offset="0.3500" stop-color="#33e3d9"/><stop offset="0.3750" stop-color="#40ecd4"/><stop offset="0.4000" stop-color="#4df3ce"/><stop offset="0.4250" stop-color="#59f8c8"/><stop offset="0.4500" stop-color="#66fcc2"/><stop offset="0.4750" stop-color="#73febb"/><stop offset="0.5000" stop-color="#80ffb4"/><stop offset="0.5250" stop-color="#8cfead"/><stop offset="0.5500" stop-color="#99fca6"/><stop offset="0.5750" stop-color="#a6f89e"/><stop offset="0.6000" stop-color="#b3f396"/><stop offset="0.6250" stop-color="#bfec8e"/><stop offset="0.6500" stop-color="#cce385"/><stop offset="0.6750" stop-color="#d9d97d"/><stop offset="0.7000" stop-color="#e6ce74"/><stop offset="0.7250" stop-color="#f2c26b"/><stop offset="0.7500" stop-color="#ffb462"/><stop offset="0.7750" stop-color="#ffa658"/><stop offset="0.8000" stop-color="#ff964f"/><stop offset="0.8250" stop-color="#ff8545"/><stop offset="0.8500" stop-color="#ff743c"/><stop offset="0.8750" stop-color="#ff6232"/><stop offset="0.9000" stop-color="#ff4f28"/><stop offset="0.9250" stop-color="#ff3c1e"/><stop offset="0.9500" stop-color="#ff2814"/><stop offset="0.9750" stop-color="#ff140a"/><stop offset="1.0000" stop-color="#ff0000"/></linearGradient>
<rect x="196.5" y="479.7" width="12.40" height="255.00" fill="url(#cb)" stroke="#1a1a1a" stroke-width="1.0"/>
<line x1="208.90" y1="735.20" x2="212.50" y2="735.20" stroke="#1a1a1a" stroke-width="1.0" />
<text x="215.90" y="738.72" font-size="9.5" text-anchor="start" font-family='"DejaVu Sans","Liberation Sans",sans-serif' stroke="#000" stroke-width="0.18" >0.00</text>
<line x1="208.90" y1="703.49" x2="212.50" y2="703.49" stroke="#1a1a1a" stroke-width="1.0" />
<text x="215.90" y="707.00" font-size="9.5" text-anchor="start" font-family='"DejaVu Sans","Liberation Sans",sans-serif' stroke="#000" stroke-width="0.18" >0.05</text>
<line x1="208.90" y1="671.78" x2="212.50" y2="671.78" stroke="#1a1a1a" stroke-width="1.0" />
<text x="215.90" y="675.30" font-size="9.5" text-anchor="start" font-family='"DejaVu Sans","Liberation Sans",sans-serif' stroke="#000" stroke-width="0.18" >0.10</text>
<line x1="208.90" y1="640.07" x2="212.50" y2="640.07" stroke="#1a1a1a" stroke-width="1.0" />
<text x="215.90" y="643.59" font-size="9.5" text-anchor="start" font-family='"DejaVu Sans","Liberation Sans",sans-serif' stroke="#000" stroke-width="0.18" >0.15</text>
<line x1="208.90" y1="608.36" x2="212.50" y2="608.36" stroke="#1a1a1a" stroke-width="1.0" />
<text x="215.90" y="611.88" font-size="9.5" text-anchor="start" font-family='"DejaVu Sans","Liberation Sans",sans-serif' stroke="#000" stroke-width="0.18" >0.20</text>
<line x1="208.90" y1="576.65" x2="212.50" y2="576.65" stroke="#1a1a1a" stroke-width="1.0" />
<text x="215.90" y="580.17" font-size="9.5" text-anchor="start" font-family='"DejaVu Sans","Liberation Sans",sans-serif' stroke="#000" stroke-width="0.18" >0.25</text>
<line x1="208.90" y1="544.94" x2="212.50" y2="544.94" stroke="#1a1a1a" stroke-width="1.0" />
<text x="215.90" y="548.46" font-size="9.5" text-anchor="start" font-family='"DejaVu Sans","Liberation Sans",sans-serif' stroke="#000" stroke-width="0.18" >0.30</text>
<line x1="208.90" y1="513.23" x2="212.50" y2="513.23" stroke="#1a1a1a" stroke-width="1.0" />
<text x="215.90" y="516.75" font-size="9.5" text-anchor="start" font-family='"DejaVu Sans","Liberation Sans",sans-serif' stroke="#000" stroke-width="0.18" >0.35</text>
<line x1="208.90" y1="481.52" x2="212.50" y2="481.52" stroke="#1a1a1a" stroke-width="1.0" />
<text x="215.90" y="485.04" font-size="9.5" text-anchor="start" font-family='"DejaVu Sans","Liberation Sans",sans-serif' stroke="#000" stroke-width="0.18" >0.40</text>
<g stroke="#000" stroke-width="1.65" fill="none"><circle cx="134.3" cy="508.7" r="10.0"/><path d="M127.23,501.63 L141.37,515.77 M141.37,501.63 L127.23,515.77"/></g>
<text x="146.30" y="520.30" font-size="19.3" text-anchor="start" font-family='"Liberation Sans","DejaVu Sans",sans-serif' stroke="#000" stroke-width="0.18" ><tspan font-style="italic">B</tspan><tspan font-size="14.5" dy="5.2" dx="-0.5" font-style="italic">0</tspan></text>
<g stroke="#000" stroke-width="1.3" fill="#000"><path d="M85.5,614 L85.5,643" /><path d="M85.5,608.4 L90.8,618.3 L80.2,618.3 Z" stroke="none"/><path d="M85.5,648.7 L90.8,638.8 L80.2,638.8 Z" stroke="none"/></g>
<text x="92.90" y="640.60" font-size="19.5" text-anchor="start" font-family='"Liberation Sans","DejaVu Sans",sans-serif' stroke="#000" stroke-width="0.18" ><tspan font-style="italic">L</tspan><tspan font-size="13.5" dy="4.7" dx="0.4">bin</tspan></text>
<g stroke="#000" stroke-width="1.3" fill="#000"><path d="M88,686.9 L118,686.9" /><path d="M83,686.9 L92.7,681.6 L92.7,692.1999999999999 Z" stroke="none"/><path d="M123.1,686.9 L113.4,681.6 L113.4,692.1999999999999 Z" stroke="none"/></g>
<text x="96.90" y="707.70" font-size="19.5" text-anchor="start" font-family='"Liberation Sans","DejaVu Sans",sans-serif' stroke="#000" stroke-width="0.18" ><tspan font-style="italic">L</tspan><tspan font-size="13.5" dy="4.7" dx="0.4">perp</tspan></text>
<rect x="346.0" y="478.6" width="130.00" height="259.60" fill="#8000ff"/>
<filter id="cmb" x="346.0" y="478.6" width="130.00" height="259.60" filterUnits="userSpaceOnUse" color-interpolation-filters="sRGB"><feComponentTransfer><feFuncR type="table" tableValues="0.500 0.438 0.375 0.312 0.250 0.188 0.125 0.062 0.000 0.062 0.125 0.188 0.250 0.312 0.375 0.438 0.500 0.562 0.625 0.688 0.750 0.812 0.875 0.938 1.000 1.000 1.000 1.000 1.000 1.000 1.000 1.000 1.000"/><feFuncG type="table" tableValues="0.000 0.098 0.195 0.290 0.383 0.471 0.556 0.634 0.707 0.773 0.831 0.882 0.924 0.957 0.981 0.995 1.000 0.995 0.981 0.957 0.924 0.882 0.831 0.773 0.707 0.634 0.556 0.471 0.383 0.290 0.195 0.098 0.000"/><feFuncB type="table" tableValues="1.000 0.999 0.995 0.989 0.981 0.970 0.957 0.942 0.924 0.904 0.882 0.858 0.831 0.803 0.773 0.741 0.707 0.672 0.634 0.596 0.556 0.514 0.471 0.428 0.383 0.337 0.290 0.243 0.195 0.147 0.098 0.049 0.000"/></feComponentTransfer></filter>
<filter id="b1" x="326.0" y="458.6" width="170.00" height="299.60" filterUnits="userSpaceOnUse" color-interpolation-filters="sRGB"><feGaussianBlur stdDeviation="0.6"/></filter>
<filter id="b0" x="326.0" y="458.6" width="170.00" height="299.60" filterUnits="userSpaceOnUse" color-interpolation-filters="sRGB"><feGaussianBlur stdDeviation="0.45"/></filter>
<filter id="b2" x="326.0" y="458.6" width="170.00" height="299.60" filterUnits="userSpaceOnUse" color-interpolation-filters="sRGB"><feGaussianBlur stdDeviation="1.3"/></filter>
<filter id="b3" x="326.0" y="458.6" width="170.00" height="299.60" filterUnits="userSpaceOnUse" color-interpolation-filters="sRGB"><feGaussianBlur stdDeviation="4"/></filter>
<filter id="b5" x="326.0" y="458.6" width="170.00" height="299.60" filterUnits="userSpaceOnUse" color-interpolation-filters="sRGB"><feGaussianBlur stdDeviation="2.2"/></filter>
<filter id="b4" x="326.0" y="458.6" width="170.00" height="299.60" filterUnits="userSpaceOnUse" color-interpolation-filters="sRGB"><feGaussianBlur stdDeviation="9"/></filter>
<clipPath id="cr"><rect x="346.0" y="478.6" width="130.00" height="259.60"/></clipPath>
<g filter="url(#cmb)"><g clip-path="url(#cr)">
<rect x="346.0" y="478.6" width="130.00" height="259.60" fill="#000"/>
<linearGradient id="g1" gradientUnits="userSpaceOnUse" x1="346.0" x2="476.0" y1="0" y2="0"><stop offset="0.185" stop-color="#fff" stop-opacity="0"/><stop offset="0.569" stop-color="#fff" stop-opacity="0.03"/><stop offset="1.000" stop-color="#fff" stop-opacity="0.035"/></linearGradient>
<g filter="url(#b4)"><polygon points="352.0,607.4 486.0,528 486.0,692" fill="url(#g1)"/></g>
<linearGradient id="g2" gradientUnits="userSpaceOnUse" x1="346.0" x2="476.0" y1="0" y2="0"><stop offset="0.277" stop-color="#fff" stop-opacity="0"/><stop offset="0.531" stop-color="#fff" stop-opacity="0.06"/><stop offset="1.000" stop-color="#fff" stop-opacity="0.085"/></linearGradient>
<g filter="url(#b3)"><polygon points="356.0,607.4 486.0,560 486.0,650" fill="url(#g2)"/></g>
<linearGradient id="g3" gradientUnits="userSpaceOnUse" x1="346.0" x2="476.0" y1="0" y2="0"><stop offset="0.000" stop-color="#fff" stop-opacity="0.16"/><stop offset="0.108" stop-color="#fff" stop-opacity="0.15"/><stop offset="0.262" stop-color="#fff" stop-opacity="0.1"/><stop offset="0.415" stop-color="#fff" stop-opacity="0.05"/><stop offset="0.569" stop-color="#fff" stop-opacity="0.0"/></linearGradient>
<g filter="url(#b5)"><polygon points="346,597 362,596 400,588 420,584 420,634 400,629 362,617 346,618" fill="url(#g3)"/></g>
<radialGradient id="sg" cx="349.0" cy="607.4" r="18" gradientUnits="userSpaceOnUse" gradientTransform="translate(349.0,607.4) scale(0.85,1) translate(-349.0,-607.4)"><stop offset="0" stop-color="#fff" stop-opacity="0.33"/><stop offset="0.3" stop-color="#fff" stop-opacity="0.27"/><stop offset="0.6" stop-color="#fff" stop-opacity="0.12"/><stop offset="1" stop-color="#fff" stop-opacity="0"/></radialGradient>
<rect x="346.0" y="587.4" width="30" height="40" fill="url(#sg)"/>
<linearGradient id="g4" gradientUnits="userSpaceOnUse" x1="346.0" x2="476.0" y1="0" y2="0"><stop offset="0.100" stop-color="#fff" stop-opacity="0.0"/><stop offset="0.131" stop-color="#fff" stop-opacity="0.354"/><stop offset="0.200" stop-color="#fff" stop-opacity="0.496"/><stop offset="0.415" stop-color="#fff" stop-opacity="0.472"/><stop offset="0.569" stop-color="#fff" stop-opacity="0.319"/><stop offset="0.800" stop-color="#fff" stop-opacity="0.177"/><stop offset="1.000" stop-color="#fff" stop-opacity="0.118"/></linearGradient>
<linearGradient id="g5" gradientUnits="userSpaceOnUse" x1="346.0" x2="476.0" y1="0" y2="0"><stop offset="0.223" stop-color="#fff" stop-opacity="0.0"/><stop offset="0.415" stop-color="#fff" stop-opacity="0.08"/><stop offset="0.723" stop-color="#fff" stop-opacity="0.1"/><stop offset="1.000" stop-color="#fff" stop-opacity="0.12"/></linearGradient>
<linearGradient id="g6" gradientUnits="userSpaceOnUse" x1="346.0" x2="476.0" y1="0" y2="0"><stop offset="0.123" stop-color="#fff" stop-opacity="0.59"/><stop offset="0.200" stop-color="#fff" stop-opacity="0.531"/><stop offset="0.377" stop-color="#fff" stop-opacity="0.389"/><stop offset="0.646" stop-color="#fff" stop-opacity="0.212"/><stop offset="1.000" stop-color="#fff" stop-opacity="0.118"/></linearGradient>
<linearGradient id="g7" gradientUnits="userSpaceOnUse" x1="346.0" x2="476.0" y1="0" y2="0"><stop offset="0.338" stop-color="#fff" stop-opacity="0.0"/><stop offset="0.646" stop-color="#fff" stop-opacity="0.06"/><stop offset="1.000" stop-color="#fff" stop-opacity="0.08"/></linearGradient>
<linearGradient id="g8" gradientUnits="userSpaceOnUse" x1="346.0" x2="476.0" y1="0" y2="0"><stop offset="0.169" stop-color="#fff" stop-opacity="0.0"/><stop offset="0.231" stop-color="#fff" stop-opacity="0.307"/><stop offset="0.377" stop-color="#fff" stop-opacity="0.354"/><stop offset="0.569" stop-color="#fff" stop-opacity="0.177"/><stop offset="1.000" stop-color="#fff" stop-opacity="0.094"/></linearGradient>
<linearGradient id="g9" gradientUnits="userSpaceOnUse" x1="346.0" x2="476.0" y1="0" y2="0"><stop offset="0.169" stop-color="#fff" stop-opacity="0.0"/><stop offset="0.246" stop-color="#fff" stop-opacity="0.33"/><stop offset="0.646" stop-color="#fff" stop-opacity="0.201"/><stop offset="0.877" stop-color="#fff" stop-opacity="0.177"/><stop offset="0.969" stop-color="#fff" stop-opacity="0.26"/><stop offset="1.000" stop-color="#fff" stop-opacity="0.307"/></linearGradient>
<linearGradient id="g10" gradientUnits="userSpaceOnUse" x1="346.0" x2="476.0" y1="0" y2="0"><stop offset="0.262" stop-color="#fff" stop-opacity="0.0"/><stop offset="0.338" stop-color="#fff" stop-opacity="0.283"/><stop offset="0.646" stop-color="#fff" stop-opacity="0.177"/><stop offset="1.000" stop-color="#fff" stop-opacity="0.106"/></linearGradient>
<linearGradient id="g11" gradientUnits="userSpaceOnUse" x1="346.0" x2="476.0" y1="0" y2="0"><stop offset="0.231" stop-color="#fff" stop-opacity="0.0"/><stop offset="0.308" stop-color="#fff" stop-opacity="0.307"/><stop offset="0.646" stop-color="#fff" stop-opacity="0.201"/><stop offset="1.000" stop-color="#fff" stop-opacity="0.118"/></linearGradient>
<linearGradient id="g12" gradientUnits="userSpaceOnUse" x1="346.0" x2="476.0" y1="0" y2="0"><stop offset="0.292" stop-color="#fff" stop-opacity="0.0"/><stop offset="0.369" stop-color="#fff" stop-opacity="0.236"/><stop offset="0.646" stop-color="#fff" stop-opacity="0.165"/><stop offset="1.000" stop-color="#fff" stop-opacity="0.094"/></linearGradient>
<linearGradient id="g13" gradientUnits="userSpaceOnUse" x1="346.0" x2="476.0" y1="0" y2="0"><stop offset="0.085" stop-color="#fff" stop-opacity="0.0"/><stop offset="0.108" stop-color="#fff" stop-opacity="0.531"/><stop offset="0.154" stop-color="#fff" stop-opacity="0.59"/><stop offset="0.246" stop-color="#fff" stop-opacity="0.649"/><stop offset="0.338" stop-color="#fff" stop-opacity="0.59"/><stop offset="0.492" stop-color="#fff" stop-opacity="0.425"/><stop offset="0.723" stop-color="#fff" stop-opacity="0.201"/><stop offset="1.000" stop-color="#fff" stop-opacity="0.094"/></linearGradient>
<linearGradient id="g14" gradientUnits="userSpaceOnUse" x1="346.0" x2="476.0" y1="0" y2="0"><stop offset="0.300" stop-color="#fff" stop-opacity="0.0"/><stop offset="0.492" stop-color="#fff" stop-opacity="0.08"/><stop offset="0.723" stop-color="#fff" stop-opacity="0.1"/><stop offset="1.000" stop-color="#fff" stop-opacity="0.11"/></linearGradient>
<linearGradient id="g15" gradientUnits="userSpaceOnUse" x1="346.0" x2="476.0" y1="0" y2="0"><stop offset="0.185" stop-color="#fff" stop-opacity="0.0"/><stop offset="0.285" stop-color="#fff" stop-opacity="0.212"/><stop offset="0.646" stop-color="#fff" stop-opacity="0.142"/><stop offset="1.000" stop-color="#fff" stop-opacity="0.071"/></linearGradient>
<linearGradient id="g16" gradientUnits="userSpaceOnUse" x1="346.0" x2="476.0" y1="0" y2="0"><stop offset="0.200" stop-color="#fff" stop-opacity="0.0"/><stop offset="0.354" stop-color="#fff" stop-opacity="0.1"/><stop offset="1.000" stop-color="#fff" stop-opacity="0.1"/></linearGradient>
<linearGradient id="g17" gradientUnits="userSpaceOnUse" x1="346.0" x2="476.0" y1="0" y2="0"><stop offset="0.262" stop-color="#fff" stop-opacity="0.0"/><stop offset="0.492" stop-color="#fff" stop-opacity="0.05"/><stop offset="1.000" stop-color="#fff" stop-opacity="0.06"/></linearGradient>
<linearGradient id="g18" gradientUnits="userSpaceOnUse" x1="346.0" x2="476.0" y1="0" y2="0"><stop offset="0.231" stop-color="#fff" stop-opacity="0.0"/><stop offset="0.415" stop-color="#fff" stop-opacity="0.06"/><stop offset="1.000" stop-color="#fff" stop-opacity="0.07"/></linearGradient>
<linearGradient id="g19" gradientUnits="userSpaceOnUse" x1="346.0" x2="476.0" y1="0" y2="0"><stop offset="0.123" stop-color="#fff" stop-opacity="0.0"/><stop offset="0.185" stop-color="#fff" stop-opacity="0.15"/><stop offset="0.292" stop-color="#fff" stop-opacity="0.0"/></linearGradient>
<linearGradient id="g20" gradientUnits="userSpaceOnUse" x1="346.0" x2="476.0" y1="0" y2="0"><stop offset="0.092" stop-color="#fff" stop-opacity="0.0"/><stop offset="0.185" stop-color="#fff" stop-opacity="0.1"/><stop offset="0.338" stop-color="#fff" stop-opacity="0.0"/></linearGradient>
<g filter="url(#b2)"><polygon points="361.4,596.8 370.8,595.5 380.3,593.9 389.7,591.9 399.1,589.0 408.6,586.2 418.0,583.4 427.4,580.9 436.8,578.3 446.3,575.7 455.7,572.8 465.1,569.7 474.6,566.6 484.0,563.4 484.0,574.4 474.6,576.9 465.1,579.4 455.7,581.8 446.3,584.1 436.8,586.0 427.4,587.9 418.0,589.9 408.6,592.0 399.1,594.2 389.7,596.4 380.3,597.7 370.8,598.6 361.4,599.2" fill="url(#g5)"/><polygon points="365.0,603.6 374.2,601.5 383.3,599.4 392.5,597.2 401.6,595.1 410.8,592.6 419.9,590.6 429.1,588.9 438.2,587.1 447.4,585.4 456.5,582.8 465.7,579.9 474.8,577.1 484.0,574.2 484.0,582.2 474.8,584.6 465.7,587.0 456.5,589.4 447.4,591.5 438.2,592.8 429.1,594.1 419.9,595.4 410.8,596.9 401.6,598.9 392.5,600.6 383.3,602.3 374.2,604.0 365.0,605.6" fill="url(#g7)"/><polygon points="358.5,609.5 368.2,611.6 377.8,614.3 387.5,616.5 397.1,617.8 406.8,619.1 416.4,620.4 426.1,621.8 435.7,623.2 445.4,624.6 455.0,625.9 464.7,627.2 474.3,628.5 484.0,629.9 484.0,640.9 474.3,638.9 464.7,636.9 455.0,635.0 445.4,633.0 435.7,630.9 426.1,628.9 416.4,626.9 406.8,624.9 397.1,622.9 387.5,621.0 377.8,618.1 368.2,614.7 358.5,612.0" fill="url(#g14)"/><polygon points="375.0,592.5 383.4,589.9 391.8,587.2 400.2,584.4 408.5,581.5 416.9,578.7 425.3,575.9 433.7,573.0 442.1,570.2 450.5,567.4 458.8,564.5 467.2,561.7 475.6,558.9 484.0,556.0 484.0,564.0 475.6,566.4 467.2,568.8 458.8,571.2 450.5,573.5 442.1,575.9 433.7,578.3 425.3,580.6 416.9,583.0 408.5,585.4 400.2,587.7 391.8,590.1 383.4,592.3 375.0,594.5" fill="url(#g16)"/><polygon points="380.0,588.0 388.0,584.4 396.0,580.8 404.0,577.2 412.0,573.6 420.0,570.0 428.0,566.4 436.0,562.8 444.0,559.2 452.0,555.6 460.0,552.0 468.0,548.4 476.0,544.8 484.0,541.2 484.0,550.2 476.0,553.2 468.0,556.3 460.0,559.4 452.0,562.4 444.0,565.5 436.0,568.6 428.0,571.6 420.0,574.7 412.0,577.7 404.0,580.8 396.0,583.9 388.0,586.9 380.0,590.0" fill="url(#g17)"/><polygon points="377.0,626.0 385.2,628.6 393.5,631.2 401.7,633.8 409.9,636.4 418.2,639.0 426.4,641.6 434.6,644.2 442.8,646.8 451.1,649.4 459.3,652.0 467.5,654.6 475.8,657.2 484.0,659.8 484.0,668.8 475.8,665.7 467.5,662.5 459.3,659.4 451.1,656.2 442.8,653.1 434.6,650.0 426.4,646.8 418.2,643.7 409.9,640.6 401.7,637.4 393.5,634.3 385.2,631.1 377.0,628.0" fill="url(#g18)"/><polygon points="366.2,618.9 367.5,618.7 368.8,618.6 370.0,618.4 371.3,618.2 372.6,618.1 373.9,617.9 375.2,617.7 376.4,617.6 377.7,617.4 379.0,617.2 380.3,617.0 381.6,616.9 382.8,616.7 382.8,618.7 381.6,618.9 380.3,619.0 379.0,619.2 377.7,619.4 376.4,619.6 375.2,619.7 373.9,619.9 372.6,620.1 371.3,620.2 370.0,620.4 368.8,620.6 367.5,620.7 366.2,620.9" fill="url(#g19)"/><polygon points="360.6,624.2 362.8,624.4 364.9,624.6 367.1,624.9 369.2,625.1 371.3,625.3 373.5,625.5 375.6,625.7 377.7,625.9 379.9,626.1 382.0,626.4 384.1,626.6 386.3,626.8 388.4,627.0 388.4,629.5 386.3,629.3 384.1,629.1 382.0,628.9 379.9,628.6 377.7,628.4 375.6,628.2 373.5,628.0 371.3,627.8 369.2,627.6 367.1,627.4 364.9,627.1 362.8,626.9 360.6,626.7" fill="url(#g20)"/></g>
<g filter="url(#b1)"><polygon points="361.4,597.1 370.8,596.0 380.3,594.7 389.7,593.0 399.1,590.4 408.6,587.7 418.0,585.2 427.4,582.9 436.8,580.6 446.3,578.2 455.7,575.6 465.1,572.7 474.6,569.8 484.0,566.9 484.0,570.9 474.6,573.6 465.1,576.3 455.7,579.1 446.3,581.6 436.8,583.7 427.4,585.9 418.0,588.1 408.6,590.4 399.1,592.8 389.7,595.3 380.3,596.9 370.8,598.0 361.4,598.9" fill="url(#g4)"/><polygon points="365.0,603.8 374.2,601.9 383.3,599.9 392.5,598.0 401.6,595.9 410.8,593.7 419.9,591.8 429.1,590.3 438.2,588.7 447.4,587.1 456.5,584.7 465.7,582.0 474.8,579.3 484.0,576.6 484.0,579.8 474.8,582.4 465.7,585.0 456.5,587.5 447.4,589.8 438.2,591.3 429.1,592.7 419.9,594.2 410.8,595.9 401.6,598.0 392.5,599.9 383.3,601.8 374.2,603.6 365.0,605.4" fill="url(#g6)"/><polygon points="372.0,604.8 380.6,603.3 389.2,601.8 397.8,600.9 406.5,600.2 415.1,599.4 423.7,598.6 432.3,597.8 440.9,597.0 449.5,596.2 458.2,595.6 466.8,594.9 475.4,594.3 484.0,593.7 484.0,596.9 475.4,597.4 466.8,597.9 458.2,598.4 449.5,598.9 440.9,599.5 432.3,600.2 423.7,600.8 415.1,601.5 406.5,602.1 397.8,602.8 389.2,603.5 380.6,604.8 372.0,606.2" fill="url(#g8)"/><polygon points="372.0,607.6 380.6,607.2 389.2,606.8 397.8,606.5 406.5,606.1 415.1,605.7 423.7,605.3 432.3,604.9 440.9,604.5 449.5,604.0 458.2,603.8 466.8,603.6 475.4,603.4 484.0,603.1 484.0,605.9 475.4,606.1 466.8,606.2 458.2,606.3 449.5,606.4 440.9,606.7 432.3,607.0 423.7,607.4 415.1,607.7 406.5,607.9 397.8,608.2 389.2,608.5 380.6,608.7 372.0,609.0" fill="url(#g9)"/><polygon points="384.0,610.6 391.7,610.6 399.4,610.6 407.1,610.5 414.8,610.5 422.5,610.5 430.2,610.5 437.8,610.5 445.5,610.4 453.2,610.6 460.9,610.9 468.6,611.3 476.3,611.7 484.0,612.0 484.0,614.8 476.3,614.4 468.6,613.9 460.9,613.4 453.2,613.0 445.5,612.7 437.8,612.6 430.2,612.5 422.5,612.4 414.8,612.4 407.1,612.3 399.4,612.2 391.7,612.1 384.0,612.0" fill="url(#g10)"/><polygon points="380.0,612.8 388.0,613.7 396.0,614.0 404.0,614.2 412.0,614.3 420.0,614.5 428.0,614.6 436.0,614.8 444.0,614.9 452.0,615.3 460.0,616.0 468.0,616.8 476.0,617.6 484.0,618.3 484.0,621.3 476.0,620.4 468.0,619.5 460.0,618.7 452.0,617.8 444.0,617.3 436.0,617.1 428.0,616.8 420.0,616.5 412.0,616.2 404.0,616.0 396.0,615.7 388.0,615.2 380.0,614.2" fill="url(#g11)"/><polygon points="386.0,615.3 393.5,616.3 401.1,617.2 408.6,618.2 416.2,619.1 423.7,620.1 431.2,621.0 438.8,622.0 446.3,622.9 453.8,623.9 461.4,624.9 468.9,625.9 476.5,626.9 484.0,627.9 484.0,630.9 476.5,629.8 468.9,628.7 461.4,627.5 453.8,626.4 446.3,625.3 438.8,624.2 431.2,623.1 423.7,622.1 416.2,621.0 408.6,619.9 401.1,618.8 393.5,617.8 386.0,616.7" fill="url(#g12)"/><polygon points="358.5,609.8 368.2,612.1 377.8,615.2 387.5,617.6 397.1,619.1 406.8,620.7 416.4,622.2 426.1,623.9 435.7,625.5 445.4,627.1 455.0,628.7 464.7,630.3 474.3,631.8 484.0,633.4 484.0,637.4 474.3,635.6 464.7,633.9 455.0,632.2 445.4,630.4 435.7,628.6 426.1,626.9 416.4,625.1 406.8,623.3 397.1,621.6 387.5,619.9 377.8,617.3 368.2,614.1 358.5,611.6" fill="url(#g13)"/><polygon points="372.0,615.7 380.6,618.3 389.2,620.8 397.8,622.9 406.5,625.0 415.1,627.1 423.7,629.2 432.3,631.2 440.9,633.3 449.5,635.4 458.2,637.5 466.8,639.5 475.4,641.6 484.0,643.7 484.0,647.3 475.4,645.1 466.8,642.8 458.2,640.6 449.5,638.4 440.9,636.1 432.3,633.9 423.7,631.7 415.1,629.5 406.5,627.2 397.8,625.0 389.2,622.7 380.6,620.0 372.0,617.3" fill="url(#g15)"/></g>
<g filter="url(#b0)"><ellipse cx="363.42" cy="604.66" rx="3.4" ry="1.0" fill="#fff" fill-opacity="0.95"/><ellipse cx="384.20" cy="618.10" rx="4.2" ry="1.0" fill="#fff" fill-opacity="0.9" transform="rotate(12 384.20 618.10)"/></g>
</g></g>
<rect x="346.0" y="478.6" width="130.00" height="259.60" fill="none" stroke="#1a1a1a" stroke-width="1.0"/>
<line x1="346.00" y1="738.40" x2="343.00" y2="738.40" stroke="#1a1a1a" stroke-width="1.0" />
<text x="340.10" y="741.58" font-size="8.6" text-anchor="end" font-family='"DejaVu Sans","Liberation Sans",sans-serif' stroke="#000" stroke-width="0.18" letter-spacing="0.15">0</text>
<line x1="346.00" y1="705.97" x2="343.00" y2="705.97" stroke="#1a1a1a" stroke-width="1.0" />
<text x="340.10" y="709.15" font-size="8.6" text-anchor="end" font-family='"DejaVu Sans","Liberation Sans",sans-serif' stroke="#000" stroke-width="0.18" letter-spacing="0.15">50</text>
<line x1="346.00" y1="673.53" x2="343.00" y2="673.53" stroke="#1a1a1a" stroke-width="1.0" />
<text x="340.10" y="676.71" font-size="8.6" text-anchor="end" font-family='"DejaVu Sans","Liberation Sans",sans-serif' stroke="#000" stroke-width="0.18" letter-spacing="0.15">100</text>
<line x1="346.00" y1="641.10" x2="343.00" y2="641.10" stroke="#1a1a1a" stroke-width="1.0" />
<text x="340.10" y="644.28" font-size="8.6" text-anchor="end" font-family='"DejaVu Sans","Liberation Sans",sans-serif' stroke="#000" stroke-width="0.18" letter-spacing="0.15">150</text>
<line x1="346.00" y1="608.66" x2="343.00" y2="608.66" stroke="#1a1a1a" stroke-width="1.0" />
<text x="340.10" y="611.84" font-size="8.6" text-anchor="end" font-family='"DejaVu Sans","Liberation Sans",sans-serif' stroke="#000" stroke-width="0.18" letter-spacing="0.15">200</text>
<line x1="346.00" y1="576.23" x2="343.00" y2="576.23" stroke="#1a1a1a" stroke-width="1.0" />
<text x="340.10" y="579.41" font-size="8.6" text-anchor="end" font-family='"DejaVu Sans","Liberation Sans",sans-serif' stroke="#000" stroke-width="0.18" letter-spacing="0.15">250</text>
<line x1="346.00" y1="543.79" x2="343.00" y2="543.79" stroke="#1a1a1a" stroke-width="1.0" />
<text x="340.10" y="546.97" font-size="8.6" text-anchor="end" font-family='"DejaVu Sans","Liberation Sans",sans-serif' stroke="#000" stroke-width="0.18" letter-spacing="0.15">300</text>
<line x1="346.00" y1="511.36" x2="343.00" y2="511.36" stroke="#1a1a1a" stroke-width="1.0" />
<text x="340.10" y="514.54" font-size="8.6" text-anchor="end" font-family='"DejaVu Sans","Liberation Sans",sans-serif' stroke="#000" stroke-width="0.18" letter-spacing="0.15">350</text>
<line x1="346.20" y1="738.20" x2="346.20" y2="741.20" stroke="#1a1a1a" stroke-width="1.0" />
<text x="346.20" y="752.00" font-size="8.6" text-anchor="middle" font-family='"DejaVu Sans","Liberation Sans",sans-serif' stroke="#000" stroke-width="0.18" >0</text>
<line x1="378.52" y1="738.20" x2="378.52" y2="741.20" stroke="#1a1a1a" stroke-width="1.0" />
<text x="378.52" y="752.00" font-size="8.6" text-anchor="middle" font-family='"DejaVu Sans","Liberation Sans",sans-serif' stroke="#000" stroke-width="0.18" >50</text>
<line x1="410.85" y1="738.20" x2="410.85" y2="741.20" stroke="#1a1a1a" stroke-width="1.0" />
<text x="410.85" y="752.00" font-size="8.6" text-anchor="middle" font-family='"DejaVu Sans","Liberation Sans",sans-serif' stroke="#000" stroke-width="0.18" >100</text>
<line x1="443.17" y1="738.20" x2="443.17" y2="741.20" stroke="#1a1a1a" stroke-width="1.0" />
<text x="443.17" y="752.00" font-size="8.6" text-anchor="middle" font-family='"DejaVu Sans","Liberation Sans",sans-serif' stroke="#000" stroke-width="0.18" >150</text>
<text x="411.00" y="767.40" font-size="12.2" text-anchor="middle" font-family='"DejaVu Sans","Liberation Sans",sans-serif' stroke="#000" stroke-width="0.18" ><tspan font-style="italic">z</tspan>/<tspan font-style="italic">λ</tspan><tspan font-size="8.54" dy="2.68">0</tspan></text>
<text x="0.00" y="0.00" font-size="12.2" text-anchor="middle" font-family='"DejaVu Sans","Liberation Sans",sans-serif' stroke="#000" stroke-width="0.18" transform="translate(314.2,608.5) rotate(-90)"><tspan font-style="italic">x</tspan>/<tspan font-style="italic">λ</tspan><tspan font-size="8.54" dy="2.68">0</tspan></text>
</svg>
</body></html>
